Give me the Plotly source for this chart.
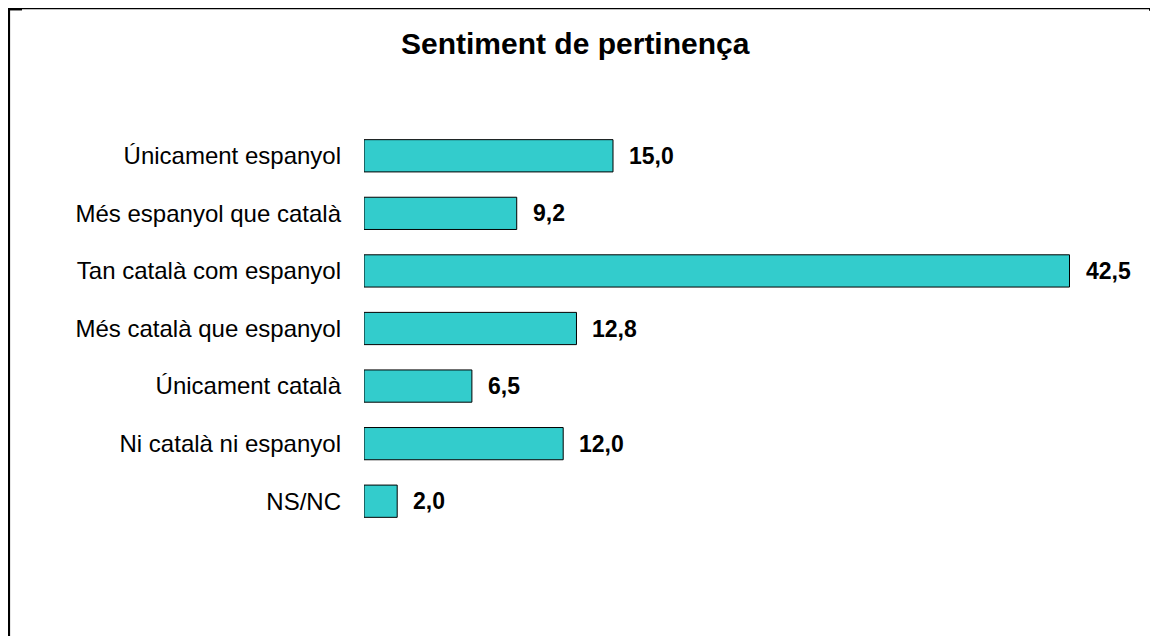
import plotly.graph_objects as go

categories = ["Únicament espanyol", "Més espanyol que català", "Tan català com espanyol",
              "Més català que espanyol", "Únicament català", "Ni català ni espanyol", "NS/NC"]
values = [15.0, 9.2, 42.5, 12.8, 6.5, 12.0, 2.0]
value_labels = ["15,0", "9,2", "42,5", "12,8", "6,5", "12,0", "2,0"]
title_text = "Sentiment de pertinença"

OFF = 8  # page body margin
W, H = 1158 - OFF, 636 - OFF
ML, MR, MT, MB = 364 - OFF, 47, 127 - OFF, 106
PW, PH = W - ML - MR, H - MT - MB

def px_x(p):  # page pixel -> paper
    return (p - OFF - ML) / PW

def px_y(p):
    return (OFF + H - MB - p) / PH

FONT = "Liberation Sans, Arial, sans-serif"

fig = go.Figure(go.Bar(
    x=values, y=categories, orientation="h",
    marker=dict(color="#33CCCC", line=dict(color="black", width=1)),
    width=0.56, hoverinfo="skip",
))

for c, v, t in zip(categories, values, value_labels):
    fig.add_annotation(x=v, y=c, text=f"<b>{t}</b>", showarrow=False,
                       xanchor="left", xshift=14, yanchor="middle",
                       font=dict(family=FONT, size=23, color="black"))

fig.add_annotation(xref="paper", yref="paper", x=px_x(575), y=px_y(44),
                   text=f"<b>{title_text}</b>", showarrow=False,
                   xanchor="center", yanchor="middle",
                   font=dict(family=FONT, size=30, color="black"))

shapes = [
    dict(type="line", xref="paper", yref="paper", x0=px_x(6), x1=px_x(1160),
         y0=px_y(8.6), y1=px_y(8.6), line=dict(color="black", width=1.3)),
    dict(type="line", xref="paper", yref="paper", x0=px_x(9), x1=px_x(9),
         y0=px_y(8), y1=px_y(640), line=dict(color="black", width=2.2)),
    dict(type="line", xref="paper", yref="paper", x0=px_x(8), x1=px_x(22),
         y0=px_y(9.7), y1=px_y(9.7), line=dict(color="black", width=1.5)),
    dict(type="line", xref="paper", yref="paper", x0=px_x(1149), x1=px_x(1160),
         y0=px_y(9.7), y1=px_y(9.7), line=dict(color="black", width=2)),
]

fig.update_layout(
    width=W, height=H,
    margin=dict(l=ML, r=MR, t=MT, b=MB, pad=0),
    paper_bgcolor="white", plot_bgcolor="white",
    showlegend=False,
    shapes=shapes,
    font=dict(family=FONT, color="black"),
    xaxis=dict(range=[0, 45], visible=False, fixedrange=True),
    yaxis=dict(autorange="reversed", showgrid=False, zeroline=False, showline=False,
               ticks="", ticklabelstandoff=22,
               tickfont=dict(family=FONT, size=24, color="black"), fixedrange=True),
)

fig.write_html("out.html", config={"displayModeBar": False})
